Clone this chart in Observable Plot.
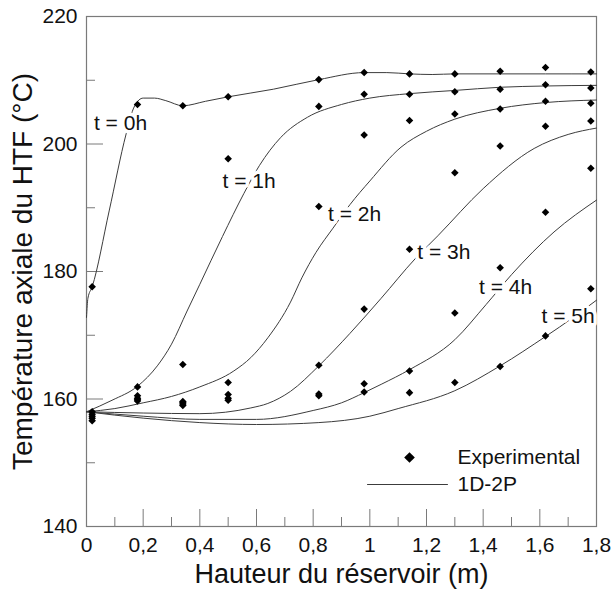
<!DOCTYPE html>
<html>
<head>
<meta charset="utf-8">
<script src="https://cdn.jsdelivr.net/npm/d3@7"></script>
<script src="https://cdn.jsdelivr.net/npm/@observablehq/plot@0.6"></script>
<style>
  body { margin: 0; background: #fff; }
  svg { display: block; }
</style>
</head>
<body>
<div id="chart"></div>
<script>
// ---- Data ----
const seriesNames = ["t = 0h", "t = 1h", "t = 2h", "t = 3h", "t = 4h", "t = 5h"];

// Experimental probe heights (m)
const probeHeights = [0.02, 0.18, 0.34, 0.50, 0.82, 0.98, 1.14, 1.30, 1.46, 1.62, 1.78];

// Experimental temperatures (°C) per time
const exp0h = [177.6, 206.2, 206.0, 207.4, 210.1, 211.2, 211.0, 211.0, 211.4, 212.0, 211.3];
const exp1h = [158.0, 161.9, 165.4, 197.7, 205.9, 207.8, 207.8, 208.2, 208.6, 209.3, 208.8];
const exp2h = [157.6, 160.5, 159.6, 162.6, 190.2, 201.4, 203.7, 204.7, 205.5, 206.7, 206.4];
const exp3h = [157.3, 160.1, 159.4, 160.7, 165.3, 174.1, 183.5, 195.5, 199.7, 202.8, 203.6];
const exp4h = [157.0, 159.9, 159.2, 160.1, 160.8, 162.4, 164.4, 173.5, 180.6, 189.3, 196.2];
const exp5h = [156.6, 159.7, 159.0, 159.8, 160.5, 161.1, 161.0, 162.6, 165.1, 169.9, 177.3];

// Model (1D-2P) curves: heights and temperatures
const model0hX = [0, 0.005, 0.02, 0.08, 0.14, 0.165, 0.185, 0.2, 0.24, 0.28, 0.34, 0.42, 0.50, 0.66, 0.82, 0.98, 1.06, 1.14, 1.22, 1.30, 1.46, 1.62, 1.80];
const model0hT = [172.8, 175.8, 177.6, 189.5, 201.6, 205.5, 206.9, 207.2, 207.2, 206.8, 206.0, 206.7, 207.4, 208.6, 210.1, 211.2, 211.2, 211.0, 210.9, 211.0, 211.0, 211.0, 211.0];

const model1hX = [0, 0.09, 0.18, 0.25, 0.30, 0.355, 0.40, 0.48, 0.555, 0.61, 0.685, 0.78, 0.90, 1.0, 1.14, 1.30, 1.46, 1.62, 1.80];
const model1hT = [158.0, 159.8, 162.0, 165.2, 168.6, 173.8, 178.0, 185.5, 192.2, 196.6, 201.0, 204.2, 206.2, 207.2, 207.9, 208.4, 208.9, 209.1, 209.2];

const model2hX = [0, 0.1, 0.2, 0.3, 0.4, 0.52, 0.58, 0.64, 0.72, 0.76, 0.81, 0.87, 0.93, 1.0, 1.11, 1.2, 1.3, 1.46, 1.62, 1.80];
const model2hT = [158.0, 158.5, 159.4, 160.4, 161.9, 164.4, 166.5, 169.6, 175.2, 179.0, 183.0, 186.8, 190.5, 194.2, 199.5, 202.0, 203.9, 205.6, 206.5, 206.9];

const model3hX = [0, 0.2, 0.4, 0.58, 0.64, 0.72, 0.82, 0.93, 1.04, 1.16, 1.24, 1.40, 1.58, 1.70, 1.80];
const model3hT = [158.0, 157.8, 157.7, 158.6, 159.3, 161.2, 165.2, 170.3, 175.8, 182.0, 185.6, 193.0, 199.3, 201.5, 202.5];

const model4hX = [0, 0.2, 0.4, 0.6, 0.8, 0.9, 0.98, 1.04, 1.14, 1.30, 1.41, 1.50, 1.65, 1.80];
const model4hT = [158.0, 157.3, 156.8, 156.8, 158.2, 159.4, 161.0, 162.3, 164.6, 169.3, 174.8, 179.5, 186.2, 191.2];

const model5hX = [0, 0.2, 0.4, 0.6, 0.82, 1.0, 1.1, 1.3, 1.46, 1.62, 1.67, 1.80];
const model5hT = [158.0, 157.0, 156.3, 156.0, 156.3, 157.3, 158.5, 161.3, 165.2, 169.8, 171.3, 175.5];

// Curve label anchor points (data units)
const labelHeights = [0.12, 0.574, 0.946, 1.261, 1.479, 1.70];
const labelTemps = [203.3, 194.2, 189.0, 183.0, 177.5, 172.9];

// Axis ticks
const xMajorTicks = [0, 0.2, 0.4, 0.6, 0.8, 1.0, 1.2, 1.4, 1.6, 1.8];
const xMinorTicks = [0.1, 0.3, 0.5, 0.7, 0.9, 1.1, 1.3, 1.5, 1.7];
const yMajorTicks = [140, 160, 180, 200, 220];
const yMinorTicks = [150, 170, 190, 210];

const legendLabels = ["Experimental", "1D-2P"];
const xTitle = "Hauteur du réservoir (m)";
const yTitle = "Température axiale du HTF (°C)";

// ---- Build tables ----
const expSeries = [exp0h, exp1h, exp2h, exp3h, exp4h, exp5h];
const modelX = [model0hX, model1hX, model2hX, model3hX, model4hX, model5hX];
const modelT = [model0hT, model1hT, model2hT, model3hT, model4hT, model5hT];

const expData = expSeries.flatMap((vals, i) =>
  probeHeights.map((h, j) => ({h, T: vals[j], s: seriesNames[i]})));
const modelData = modelX.flatMap((xs, i) =>
  xs.map((h, j) => ({h, T: modelT[i][j], s: seriesNames[i]})));
const labels = seriesNames.map((s, i) => ({s, h: labelHeights[i], T: labelTemps[i]}));

// ---- Layout ----
const W = 612, H = 589;
const mL = 86, mR = 16, mT = 16, mB = 63;
const xDomain = [0, 1.8], yDomain = [140, 220];
const pxX = (xDomain[1] - xDomain[0]) / (W - mL - mR);
const pxY = (yDomain[1] - yDomain[0]) / (H - mT - mB);
const majorLen = 17, minorLen = 9;
const axisColor = "#7a7a7a";
const font = "'Liberation Sans', Arial, Helvetica, sans-serif";

const lineShape = { draw(ctx, l) { ctx.moveTo(0, 0); ctx.lineTo(0, -l); } };
const fmtX = d => String(+d.toFixed(1)).replace(".", ",");

const chart = Plot.plot({
  width: W, height: H,
  marginLeft: mL, marginRight: mR, marginTop: mT, marginBottom: mB,
  x: {domain: xDomain},
  y: {domain: yDomain},
  style: {fontFamily: font, background: "#fff", color: "#111", overflow: "visible"},
  marks: [
    // inward ticks
    Plot.ruleX(xMajorTicks, {x: d => d, y1: yDomain[0], y2: yDomain[0] + majorLen * pxY, stroke: axisColor}),
    Plot.ruleX(xMinorTicks, {x: d => d, y1: yDomain[0], y2: yDomain[0] + minorLen * pxY, stroke: axisColor}),
    Plot.ruleY(yMajorTicks.slice(1, -1), {y: d => d, x1: xDomain[0], x2: xDomain[0] + majorLen * pxX, stroke: axisColor}),
    Plot.ruleY(yMinorTicks, {y: d => d, x1: xDomain[0], x2: xDomain[0] + minorLen * pxX, stroke: axisColor}),
    Plot.frame({stroke: axisColor, strokeWidth: 1.2}),
    // tick labels
    Plot.axisX({ticks: xMajorTicks, tickSize: 0, tickPadding: 11, tickFormat: fmtX, fontSize: 21, label: null, fill: "#111"}),
    Plot.axisY({ticks: yMajorTicks, tickSize: 0, tickPadding: 9, fontSize: 21, label: null, fill: "#111"}),
    // model curves
    Plot.line(modelData, {x: "h", y: "T", z: "s", stroke: "#3c3c3c", strokeWidth: 1, curve: "monotone-x"}),
    // curve labels with white halo
    Plot.text(labels, {x: "h", y: "T", text: "s", fontSize: 21, fill: "#111", stroke: "#fff", strokeWidth: 7, paintOrder: "stroke"}),
    // experimental points
    Plot.dot(expData, {x: "h", y: "T", symbol: "diamond2", r: 3.4, fill: "#000", stroke: "none"}),
    // legend
    Plot.dot([legendLabels[0]], {frameAnchor: "bottom-left", dx: 323, dy: -69, symbol: "diamond2", r: 4.8, fill: "#000"}),
    Plot.text([legendLabels[0]], {text: d => d, frameAnchor: "bottom-left", dx: 371, dy: -69, textAnchor: "start", lineAnchor: "middle", fontSize: 21, fill: "#111"}),
    Plot.vector([legendLabels[1]], {frameAnchor: "bottom-left", dx: 281, dy: -42, length: 80, rotate: 90, anchor: "start", shape: lineShape, stroke: "#3c3c3c", strokeWidth: 1}),
    Plot.text([legendLabels[1]], {text: d => d, frameAnchor: "bottom-left", dx: 371, dy: -42, textAnchor: "start", lineAnchor: "middle", fontSize: 21, fill: "#111"}),
    // axis titles
    Plot.text([xTitle], {text: d => d, frameAnchor: "bottom", dy: 48, textAnchor: "middle", lineAnchor: "middle", fontSize: 27, fill: "#111"}),
    Plot.text([yTitle], {text: d => d, frameAnchor: "left", dx: -63, rotate: -90, textAnchor: "middle", lineAnchor: "middle", fontSize: 28, fill: "#111"})
  ]
});
document.getElementById("chart").appendChild(chart);
</script>
</body>
</html>
